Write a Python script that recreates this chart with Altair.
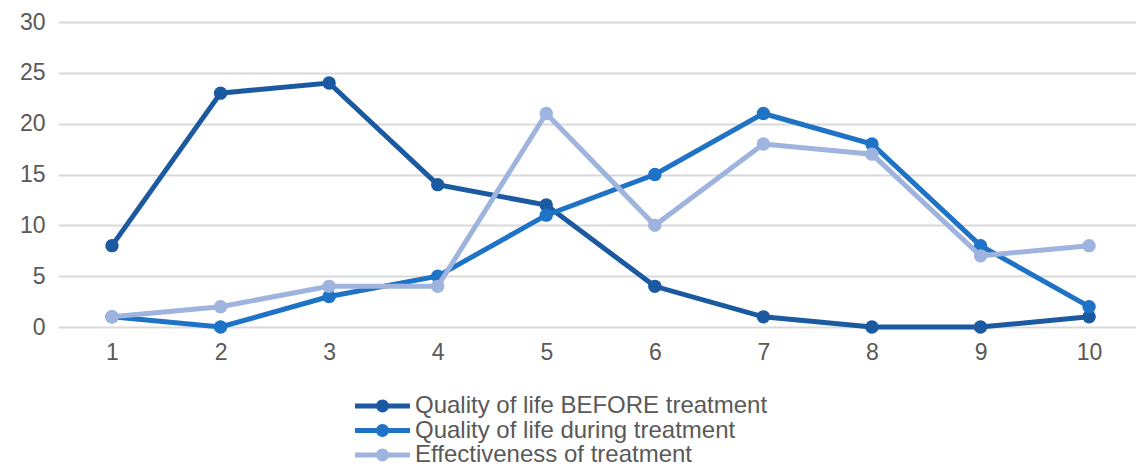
import altair as alt
import pandas as pd

categories = [1, 2, 3, 4, 5, 6, 7, 8, 9, 10]
before = [8, 23, 24, 14, 12, 4, 1, 0, 0, 1]
during = [1, 0, 3, 5, 11, 15, 21, 18, 8, 2]
effect = [1, 2, 4, 4, 21, 10, 18, 17, 7, 8]
series_names = [
    "Quality of life BEFORE treatment",
    "Quality of life during treatment",
    "Effectiveness of treatment",
]
colors = ["#1B5AA0", "#1E73C6", "#9EB3DE"]

rows = []
for name, vals in zip(series_names, [before, during, effect]):
    for c, v in zip(categories, vals):
        rows.append({"cat": c, "value": v, "series": name})
df = pd.DataFrame(rows)

legend_symbol = (
    "M-2.29,-0.208H2.29V0.208H-2.29Z "
    "M0.54,0A0.54,0.54,0,1,1,-0.54,0A0.54,0.54,0,1,1,0.54,0Z"
)

x = alt.X(
    "cat:Q",
    title=None,
    scale=alt.Scale(domain=[0.5026, 10.432], nice=False, zero=False),
    axis=alt.Axis(values=categories, format="d", ticks=False, domain=False, grid=False,
                  labelFontSize=23, labelColor="#595959", labelPadding=14,
                  labelFont="Liberation Sans"),
)
y = alt.Y(
    "value:Q",
    title=None,
    scale=alt.Scale(domain=[0, 30], nice=False),
    axis=alt.Axis(values=[0, 5, 10, 15, 20, 25, 30], ticks=False, domain=False,
                  gridColor="#D9D9D9", gridWidth=2, labelFontSize=23,
                  labelColor="#595959", labelPadding=13, labelFont="Liberation Sans"),
)
color = alt.Color(
    "series:N",
    sort=series_names,
    scale=alt.Scale(domain=series_names, range=colors),
    legend=alt.Legend(
        title=None, orient="none", legendX=312.5, legendY=372, direction="vertical",
        symbolType=legend_symbol, symbolSize=576, symbolStrokeWidth=0,
        labelFontSize=24, labelColor="#595959", labelLimit=600,
        labelFont="Liberation Sans", labelOffset=20.5, rowPadding=0.5, padding=0,
    ),
)

base = alt.Chart(df)

layers = []
for name in series_names:
    sub = base.transform_filter(alt.datum.series == name)
    layers.append(sub.mark_line(strokeWidth=5).encode(x=x, y=y, color=color))
    layers.append(sub.mark_circle(size=180, opacity=1).encode(x=x, y=y, color=color))

chart = alt.layer(*layers).properties(
    width=1078,
    height=305,
    autosize=alt.AutoSizeParams(type="none"),
    padding={"left": 50, "top": 14, "right": 0, "bottom": 141},
).configure_view(stroke=None)

chart.save("out.html", embed_options={"renderer": "svg", "actions": False})
